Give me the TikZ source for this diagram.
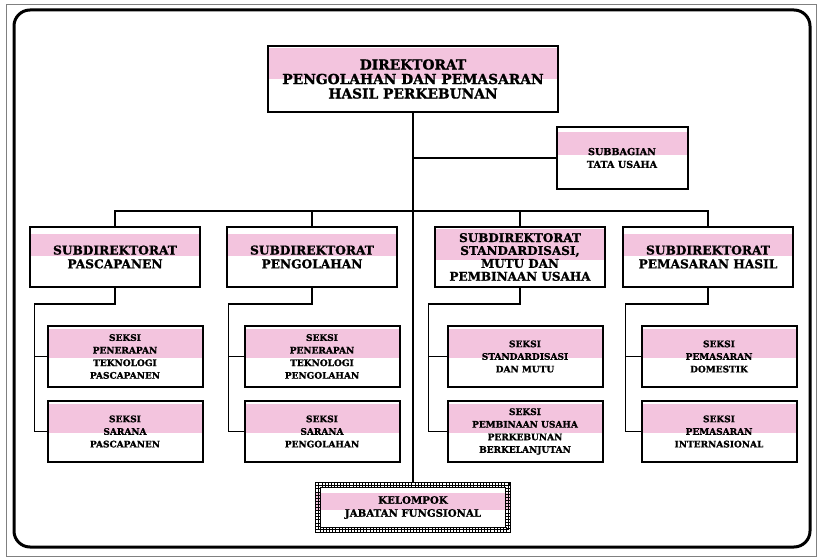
\documentclass[tikz,border=0pt]{standalone}
\usepackage{fontspec}
\setmainfont{DejaVu Serif}[BoldFeatures={FakeBold=1.2}]
\usepackage{tikz}
\usetikzlibrary{positioning, calc}
\definecolor{hilite}{RGB}{243,196,222}

\begin{document}
\begin{tikzpicture}[x=1pt, y=-1pt,
    pink/.style 2 args={path picture={
        \fill[hilite] ($(path picture bounding box.north west)!#1!(path picture bounding box.south west)$)
            rectangle ($(path picture bounding box.north east)!#2!(path picture bounding box.south east)$);}},
    box/.style={rectangle, draw, line width=2pt, fill=white, align=center, inner sep=2pt, font=\bfseries},
    dirbox/.style={box, minimum width=290pt, minimum height=66pt, pink={0.03}{0.5}, font=\fontsize{13.8}{14.5}\selectfont\bfseries},
    subbox/.style={box, minimum width=170pt, minimum height=60pt, pink={0.12}{0.48}, font=\fontsize{12.2}{13.8}\selectfont\bfseries},
    seksi/.style={box, minimum width=155pt, minimum height=61pt, pink={0.05}{0.52}, font=\fontsize{9}{12.6}\selectfont\bfseries},
    line/.style={line width=1.6pt}
]
    \useasboundingbox (0,0) rectangle (819,559);
    % frame
    \draw[line width=0.6pt, gray] (6,4) rectangle (816,556);
    \draw[line width=3pt, rounded corners=16pt] (14,10) rectangle (810,547);

    \node [dirbox] (dir) at (413,79) {DIREKTORAT\\PENGOLAHAN DAN PEMASARAN\\HASIL PERKEBUNAN};
    \node [box, minimum width=131pt, minimum height=62pt, pink={0.08}{0.45}, font=\fontsize{9.6}{12.8}\selectfont\bfseries] (tu) at (622,158) {SUBBAGIAN\\TATA USAHA};

    \node [subbox] (pasca) at (115,257) {SUBDIREKTORAT\\PASCAPANEN};
    \node [subbox] (peng) at (312,257) {SUBDIREKTORAT\\PENGOLAHAN};
    \node [subbox, pink={0.04}{0.55}, font=\fontsize{12}{12.9}\selectfont\bfseries] (std) at (520,257) {SUBDIREKTORAT\\STANDARDISASI,\\MUTU DAN\\PEMBINAAN USAHA};
    \node [subbox] (pem) at (708,257) {SUBDIREKTORAT\\PEMASARAN HASIL};

    \node [seksi, below=37pt of pasca, xshift=10pt] (s11) {SEKSI\\PENERAPAN\\TEKNOLOGI\\PASCAPANEN};
    \node [seksi, below=12pt of s11] (s12) {SEKSI\\SARANA\\PASCAPANEN};
    \node [seksi, below=37pt of peng, xshift=10pt] (s21) {SEKSI\\PENERAPAN\\TEKNOLOGI\\PENGOLAHAN};
    \node [seksi, below=12pt of s21] (s22) {SEKSI\\SARANA\\PENGOLAHAN};
    \node [seksi, below=37pt of std, xshift=5pt] (s31) {SEKSI\\STANDARDISASI\\DAN MUTU};
    \node [seksi, below=12pt of s31] (s32) {SEKSI\\PEMBINAAN USAHA\\PERKEBUNAN\\BERKELANJUTAN};
    \node [seksi, below=37pt of pem, xshift=11pt] (s41) {SEKSI\\PEMASARAN\\DOMESTIK};
    \node [seksi, below=12pt of s41] (s42) {SEKSI\\PEMASARAN\\INTERNASIONAL};

    \node [minimum width=195pt, minimum height=49pt, inner sep=0pt, align=center, font=\fontsize{10.2}{13}\selectfont\bfseries,
        path picture={\fill[hilite] ($(path picture bounding box.north west)!0.2!(path picture bounding box.south west)$)
            rectangle ($(path picture bounding box.north east)!0.55!(path picture bounding box.south east)$);}] (kel) at (413,507.5) {KELOMPOK\\JABATAN FUNGSIONAL};
    \draw[line width=5pt, dash pattern=on 0.9pt off 2.2pt] ([shift={(2.5,2.5)}]kel.north west) rectangle ([shift={(-2.5,-2.5)}]kel.south east);
    \draw[line width=1pt] (kel.north west) rectangle (kel.south east);
    \draw[line width=1pt] ([shift={(5,5)}]kel.north west) rectangle ([shift={(-5,-5)}]kel.south east);
    \draw[line width=0.5pt] ([shift={(2.5,2.5)}]kel.north west) rectangle ([shift={(-2.5,-2.5)}]kel.south east);

    % connectors
    \draw [line] (dir.south) -- (kel.north);
    \draw [line] (tu.west) -- (tu.west -| dir.south);
    \draw [line] (pasca.north) -- ++(0,-15) -| (pem.north);
    \draw [line] (peng.north) -- ++(0,-15);
    \draw [line] (std.north) -- ++(0,-15);

    \draw [line] (pasca.south) -- ++(0,16) -| ([xshift=-12pt]s12.west) -- (s12.west);
    \draw [line] (s11.west) -- ++(-12,0);
    \draw [line] (peng.south) -- ++(0,16) -| ([xshift=-15pt]s22.west) -- (s22.west);
    \draw [line] (s21.west) -- ++(-15,0);
    \draw [line] (std.south) -- ++(0,16) -| ([xshift=-18pt]s32.west) -- (s32.west);
    \draw [line] (s31.west) -- ++(-18,0);
    \draw [line] (pem.south) -- ++(0,16) -| ([xshift=-15pt]s42.west) -- (s42.west);
    \draw [line] (s41.west) -- ++(-15,0);
\end{tikzpicture}
\end{document}
